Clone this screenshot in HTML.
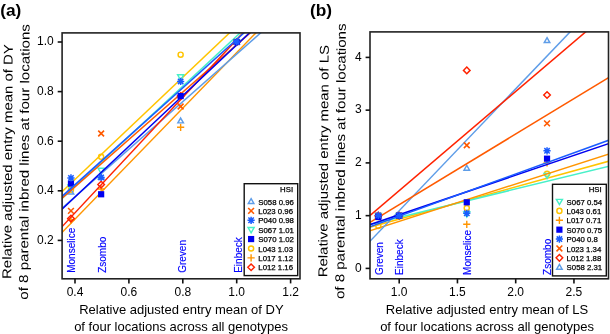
<!DOCTYPE html>
<html><head><meta charset="utf-8"><style>
html,body{margin:0;padding:0;background:#fff;width:610px;height:334px;overflow:hidden}
svg{display:block;will-change:transform}
text{font-family:"Liberation Sans",sans-serif}
text.d{stroke:#000;stroke-width:0.25px}
text.k{}
</style></head><body>
<svg width="610" height="334" viewBox="0 0 610 334">
<rect width="610" height="334" fill="#fff"/>
<text x="0.2" y="16.0" font-size="17.3" font-weight="bold" fill="#000">(a)</text>
<text x="309.9" y="16.0" font-size="17.3" font-weight="bold" fill="#000">(b)</text>
<text transform="translate(12.00,161.60) rotate(-89.65) scale(1.158,1)" font-size="12.9" text-anchor="middle" fill="#000">Relative adjusted entry mean of DY</text>
<text transform="translate(28.80,161.90) rotate(-89.65) scale(1.17,1)" font-size="12.9" text-anchor="middle" fill="#000">of 8 parental inbred lines at four locations</text>
<text transform="translate(328.00,161.20) rotate(-89.65) scale(1.158,1)" font-size="12.9" text-anchor="middle" fill="#000">Relative adjusted entry mean of LS</text>
<text transform="translate(345.00,161.30) rotate(-89.65) scale(1.17,1)" font-size="12.9" text-anchor="middle" fill="#000">of 8 parental inbred lines at four locations</text>
<text x="181.4" y="314.2" font-size="13" text-anchor="middle" fill="#000">Relative adjusted entry mean of DY</text>
<text x="181.1" y="330.7" font-size="13" text-anchor="middle" fill="#000">of four locations across all genotypes</text>
<text x="487.0" y="314.3" font-size="13" text-anchor="middle" fill="#000">Relative adjusted entry mean of LS</text>
<text x="487.1" y="330.7" font-size="13" text-anchor="middle" fill="#000">of four locations across all genotypes</text>
<clipPath id="ca"><rect x="62.1" y="32.9" width="237.9" height="245.9"/></clipPath>
<g clip-path="url(#ca)"><circle cx="70.96" cy="189.81" r="2.55" fill="none" stroke="#ffc400" stroke-width="1.45"/><circle cx="101.14" cy="156.82" r="2.55" fill="none" stroke="#ffc400" stroke-width="1.45"/><circle cx="180.64" cy="54.65" r="2.55" fill="none" stroke="#ffc400" stroke-width="1.45"/><circle cx="236.70" cy="42.00" r="2.55" fill="none" stroke="#ffc400" stroke-width="1.45"/><line x1="-1380.30" y1="1559.35" x2="2662.20" y2="-2273.76" stroke="#ffc400" stroke-width="1.5"/><path d="M70.96 190.18L73.99 184.93L67.93 184.93Z" fill="none" stroke="#48f0c8" stroke-width="1.45"/><path d="M101.14 173.56L104.17 168.31L98.11 168.31Z" fill="none" stroke="#48f0c8" stroke-width="1.45"/><path d="M180.64 80.07L183.68 74.82L177.61 74.82Z" fill="none" stroke="#48f0c8" stroke-width="1.45"/><path d="M236.70 45.10L239.73 39.85L233.67 39.85Z" fill="none" stroke="#48f0c8" stroke-width="1.45"/><line x1="-1380.30" y1="1538.93" x2="2662.20" y2="-2218.15" stroke="#48f0c8" stroke-width="1.5"/><path d="M67.36 220.06L74.56 220.06M70.96 216.46L70.96 223.66" stroke="#ff9500" stroke-width="1.4"/><path d="M97.54 189.06L104.74 189.06M101.14 185.46L101.14 192.66" stroke="#ff9500" stroke-width="1.4"/><path d="M177.04 127.31L184.24 127.31M180.64 123.71L180.64 130.91" stroke="#ff9500" stroke-width="1.4"/><path d="M233.10 42.00L240.30 42.00M236.70 38.40L236.70 45.60" stroke="#ff9500" stroke-width="1.4"/><line x1="-1380.30" y1="1716.99" x2="2662.20" y2="-2443.84" stroke="#ff9500" stroke-width="1.5"/><path d="M70.96 189.24L73.73 194.04L68.19 194.04Z" fill="none" stroke="#5e9de8" stroke-width="1.45" stroke-linejoin="miter"/><path d="M101.14 174.11L103.91 178.91L98.37 178.91Z" fill="none" stroke="#5e9de8" stroke-width="1.45" stroke-linejoin="miter"/><path d="M180.64 118.06L183.42 122.86L177.87 122.86Z" fill="none" stroke="#5e9de8" stroke-width="1.45" stroke-linejoin="miter"/><path d="M236.70 39.20L239.47 44.00L233.93 44.00Z" fill="none" stroke="#5e9de8" stroke-width="1.45" stroke-linejoin="miter"/><line x1="-1380.30" y1="1482.56" x2="2662.20" y2="-2088.77" stroke="#5e9de8" stroke-width="1.5"/><path d="M68.06 207.99L73.86 213.79M68.06 213.79L73.86 207.99" stroke="#ff5a00" stroke-width="1.6"/><path d="M98.24 130.61L104.04 136.41M98.24 136.41L104.04 130.61" stroke="#ff5a00" stroke-width="1.6"/><path d="M177.74 103.58L183.54 109.38M177.74 109.38L183.54 103.58" stroke="#ff5a00" stroke-width="1.6"/><path d="M233.80 39.10L239.60 44.90M233.80 44.90L239.60 39.10" stroke="#ff5a00" stroke-width="1.6"/><line x1="-1380.30" y1="1465.03" x2="2662.20" y2="-2085.67" stroke="#ff5a00" stroke-width="1.5"/><path d="M70.96 215.28L74.26 218.58L70.96 221.88L67.66 218.58Z" fill="none" stroke="#ff2200" stroke-width="1.45"/><path d="M101.14 181.30L104.44 184.60L101.14 187.90L97.84 184.60Z" fill="none" stroke="#ff2200" stroke-width="1.45"/><path d="M180.64 92.76L183.94 96.06L180.64 99.36L177.34 96.06Z" fill="none" stroke="#ff2200" stroke-width="1.45"/><path d="M236.70 38.70L240.00 42.00L236.70 45.30L233.40 42.00Z" fill="none" stroke="#ff2200" stroke-width="1.45"/><line x1="-1380.30" y1="1772.15" x2="2662.20" y2="-2559.26" stroke="#ff2200" stroke-width="1.5"/><rect x="67.86" y="180.51" width="6.2" height="6.2" fill="#0000f0"/><rect x="98.04" y="191.17" width="6.2" height="6.2" fill="#0000f0"/><rect x="177.54" y="92.96" width="6.2" height="6.2" fill="#0000f0"/><rect x="233.60" y="38.90" width="6.2" height="6.2" fill="#0000f0"/><line x1="-1380.30" y1="1566.65" x2="2662.20" y2="-2237.71" stroke="#0000f0" stroke-width="1.5"/><path d="M67.36 177.90L74.56 177.90M70.96 174.30L70.96 181.50M68.26 175.20L73.66 180.60M68.26 180.60L73.66 175.20" stroke="#1a5cff" stroke-width="1.5"/><path d="M97.54 177.41L104.74 177.41M101.14 173.81L101.14 181.01M98.44 174.71L103.84 180.11M98.44 180.11L103.84 174.71" stroke="#1a5cff" stroke-width="1.5"/><path d="M177.04 81.43L184.24 81.43M180.64 77.83L180.64 85.03M177.94 78.73L183.34 84.13M177.94 84.13L183.34 78.73" stroke="#1a5cff" stroke-width="1.5"/><path d="M233.10 42.00L240.30 42.00M236.70 38.40L236.70 45.60M234.00 39.30L239.40 44.70M234.00 44.70L239.40 39.30" stroke="#1a5cff" stroke-width="1.5"/><line x1="-1380.30" y1="1492.15" x2="2662.20" y2="-2139.67" stroke="#1a5cff" stroke-width="1.5"/></g>
<clipPath id="cb"><rect x="370.0" y="31.9" width="238.5" height="246.9"/></clipPath>
<g clip-path="url(#cb)"><circle cx="378.35" cy="225.99" r="2.55" fill="none" stroke="#ffc400" stroke-width="1.45"/><circle cx="399.20" cy="215.65" r="2.55" fill="none" stroke="#ffc400" stroke-width="1.45"/><circle cx="466.77" cy="208.11" r="2.55" fill="none" stroke="#ffc400" stroke-width="1.45"/><circle cx="547.04" cy="173.82" r="2.55" fill="none" stroke="#ffc400" stroke-width="1.45"/><line x1="-299.80" y1="412.14" x2="1447.70" y2="-70.52" stroke="#ffc400" stroke-width="1.5"/><path d="M378.35 218.75L381.38 213.50L375.32 213.50Z" fill="none" stroke="#48f0c8" stroke-width="1.45"/><path d="M399.20 218.75L402.23 213.50L396.17 213.50Z" fill="none" stroke="#48f0c8" stroke-width="1.45"/><path d="M466.77 217.17L469.80 211.92L463.74 211.92Z" fill="none" stroke="#48f0c8" stroke-width="1.45"/><path d="M547.04 178.61L550.07 173.36L544.01 173.36Z" fill="none" stroke="#48f0c8" stroke-width="1.45"/><line x1="-299.80" y1="388.36" x2="1447.70" y2="-38.91" stroke="#48f0c8" stroke-width="1.5"/><path d="M374.75 216.70L381.95 216.70M378.35 213.10L378.35 220.30" stroke="#ff9500" stroke-width="1.4"/><path d="M395.60 215.65L402.80 215.65M399.20 212.05L399.20 219.25" stroke="#ff9500" stroke-width="1.4"/><path d="M463.17 224.30L470.37 224.30M466.77 220.70L466.77 227.90" stroke="#ff9500" stroke-width="1.4"/><path d="M543.44 162.90L550.64 162.90M547.04 159.30L547.04 166.50" stroke="#ff9500" stroke-width="1.4"/><line x1="-299.80" y1="446.14" x2="1447.70" y2="-115.65" stroke="#ff9500" stroke-width="1.5"/><path d="M378.35 212.85L381.12 217.65L375.58 217.65Z" fill="none" stroke="#5e9de8" stroke-width="1.45" stroke-linejoin="miter"/><path d="M399.20 212.85L401.97 217.65L396.43 217.65Z" fill="none" stroke="#5e9de8" stroke-width="1.45" stroke-linejoin="miter"/><path d="M466.77 165.38L469.54 170.17L464.00 170.17Z" fill="none" stroke="#5e9de8" stroke-width="1.45" stroke-linejoin="miter"/><path d="M547.04 37.72L549.81 42.52L544.27 42.52Z" fill="none" stroke="#5e9de8" stroke-width="1.45" stroke-linejoin="miter"/><line x1="-299.80" y1="941.79" x2="1447.70" y2="-886.00" stroke="#5e9de8" stroke-width="1.5"/><path d="M375.45 212.75L381.25 218.55M375.45 218.55L381.25 212.75" stroke="#ff5a00" stroke-width="1.6"/><path d="M396.30 212.75L402.10 218.55M396.30 218.55L402.10 212.75" stroke="#ff5a00" stroke-width="1.6"/><path d="M463.87 142.38L469.67 148.18M463.87 148.18L469.67 142.38" stroke="#ff5a00" stroke-width="1.6"/><path d="M544.14 120.49L549.94 126.29M544.14 126.29L549.94 120.49" stroke="#ff5a00" stroke-width="1.6"/><line x1="-299.80" y1="628.84" x2="1447.70" y2="-431.44" stroke="#ff5a00" stroke-width="1.5"/><path d="M378.35 212.35L381.65 215.65L378.35 218.95L375.05 215.65Z" fill="none" stroke="#ff2200" stroke-width="1.45"/><path d="M399.20 212.35L402.50 215.65L399.20 218.95L395.90 215.65Z" fill="none" stroke="#ff2200" stroke-width="1.45"/><path d="M466.77 67.08L470.07 70.38L466.77 73.68L463.47 70.38Z" fill="none" stroke="#ff2200" stroke-width="1.45"/><path d="M547.04 91.71L550.34 95.01L547.04 98.31L543.74 95.01Z" fill="none" stroke="#ff2200" stroke-width="1.45"/><line x1="-299.80" y1="785.63" x2="1447.70" y2="-701.92" stroke="#ff2200" stroke-width="1.5"/><rect x="375.25" y="213.92" width="6.2" height="6.2" fill="#0000f0"/><rect x="396.10" y="212.55" width="6.2" height="6.2" fill="#0000f0"/><rect x="463.67" y="199.20" width="6.2" height="6.2" fill="#0000f0"/><rect x="543.94" y="155.58" width="6.2" height="6.2" fill="#0000f0"/><line x1="-299.80" y1="452.09" x2="1447.70" y2="-141.35" stroke="#0000f0" stroke-width="1.5"/><path d="M374.75 215.39L381.95 215.39M378.35 211.79L378.35 218.99M375.65 212.69L381.05 218.09M375.65 218.09L381.05 212.69" stroke="#1a5cff" stroke-width="1.5"/><path d="M395.60 215.65L402.80 215.65M399.20 212.05L399.20 219.25M396.50 212.95L401.90 218.35M396.50 218.35L401.90 212.95" stroke="#1a5cff" stroke-width="1.5"/><path d="M463.17 213.28L470.37 213.28M466.77 209.68L466.77 216.88M464.07 210.58L469.47 215.98M464.07 215.98L469.47 210.58" stroke="#1a5cff" stroke-width="1.5"/><path d="M543.44 150.82L550.64 150.82M547.04 147.22L547.04 154.42M544.34 148.12L549.74 153.52M544.34 153.52L549.74 148.12" stroke="#1a5cff" stroke-width="1.5"/><line x1="-299.80" y1="469.34" x2="1447.70" y2="-163.66" stroke="#1a5cff" stroke-width="1.5"/></g>
<text transform="translate(75.00,272.80) rotate(-90)" font-size="10" fill="#0000ff" stroke="#0000ff" stroke-width="0.15">Monselice</text>
<text transform="translate(105.80,272.80) rotate(-90)" font-size="10" fill="#0000ff" stroke="#0000ff" stroke-width="0.15">Zsombo</text>
<text transform="translate(185.60,272.80) rotate(-90)" font-size="10" fill="#0000ff" stroke="#0000ff" stroke-width="0.15">Greven</text>
<text transform="translate(241.60,272.80) rotate(-90)" font-size="10" fill="#0000ff" stroke="#0000ff" stroke-width="0.15">Einbeck</text>
<text transform="translate(383.40,274.90) rotate(-90)" font-size="10" fill="#0000ff" stroke="#0000ff" stroke-width="0.15">Greven</text>
<text transform="translate(403.30,274.90) rotate(-90)" font-size="10" fill="#0000ff" stroke="#0000ff" stroke-width="0.15">Einbeck</text>
<text transform="translate(471.00,274.90) rotate(-90)" font-size="10" fill="#0000ff" stroke="#0000ff" stroke-width="0.15">Monselice</text>
<text transform="translate(551.10,274.90) rotate(-90)" font-size="10" fill="#0000ff" stroke="#0000ff" stroke-width="0.15">Zsombo</text>
<rect x="244.2" y="183.7" width="53.5" height="91.90000000000003" fill="#fff" stroke="#111" stroke-width="1.4"/>
<text x="293.09999999999997" y="192.4" font-size="7.8" text-anchor="end" fill="#000" class="d">HSI</text>
<path d="M251.10 198.70L253.87 203.50L248.33 203.50Z" fill="none" stroke="#5e9de8" stroke-width="1.45" stroke-linejoin="miter"/>
<text x="258.3" y="204.70" font-size="7.8" fill="#000" class="d">S058 0.96</text>
<path d="M248.20 207.99L254.00 213.79M248.20 213.79L254.00 207.99" stroke="#ff5a00" stroke-width="1.6"/>
<text x="258.3" y="214.09" font-size="7.8" fill="#000" class="d">L023 0.96</text>
<path d="M247.50 220.28L254.70 220.28M251.10 216.68L251.10 223.88M248.40 217.58L253.80 222.98M248.40 222.98L253.80 217.58" stroke="#1a5cff" stroke-width="1.5"/>
<text x="258.3" y="223.48" font-size="7.8" fill="#000" class="d">P040 0.98</text>
<path d="M251.10 232.77L254.13 227.52L248.07 227.52Z" fill="none" stroke="#48f0c8" stroke-width="1.45"/>
<text x="258.3" y="232.87" font-size="7.8" fill="#000" class="d">S067 1.01</text>
<rect x="248.00" y="235.96" width="6.2" height="6.2" fill="#0000f0"/>
<text x="258.3" y="242.26" font-size="7.8" fill="#000" class="d">S070 1.02</text>
<circle cx="251.10" cy="248.45" r="2.55" fill="none" stroke="#ffc400" stroke-width="1.45"/>
<text x="258.3" y="251.65" font-size="7.8" fill="#000" class="d">L043 1.03</text>
<path d="M247.50 257.84L254.70 257.84M251.10 254.24L251.10 261.44" stroke="#ff9500" stroke-width="1.4"/>
<text x="258.3" y="261.04" font-size="7.8" fill="#000" class="d">L017 1.12</text>
<path d="M251.10 263.93L254.40 267.23L251.10 270.53L247.80 267.23Z" fill="none" stroke="#ff2200" stroke-width="1.45"/>
<text x="258.3" y="270.43" font-size="7.8" fill="#000" class="d">L012 1.16</text>
<rect x="552.5" y="184.3" width="53.799999999999955" height="91.59999999999997" fill="#fff" stroke="#111" stroke-width="1.4"/>
<text x="601.6999999999999" y="192.4" font-size="7.8" text-anchor="end" fill="#000" class="d">HSI</text>
<path d="M559.40 204.60L562.43 199.35L556.37 199.35Z" fill="none" stroke="#48f0c8" stroke-width="1.45"/>
<text x="566.6" y="204.70" font-size="7.8" fill="#000" class="d">S067 0.54</text>
<circle cx="559.40" cy="210.89" r="2.55" fill="none" stroke="#ffc400" stroke-width="1.45"/>
<text x="566.6" y="214.09" font-size="7.8" fill="#000" class="d">L043 0.61</text>
<path d="M555.80 220.28L563.00 220.28M559.40 216.68L559.40 223.88" stroke="#ff9500" stroke-width="1.4"/>
<text x="566.6" y="223.48" font-size="7.8" fill="#000" class="d">L017 0.71</text>
<rect x="556.30" y="226.57" width="6.2" height="6.2" fill="#0000f0"/>
<text x="566.6" y="232.87" font-size="7.8" fill="#000" class="d">S070 0.75</text>
<path d="M555.80 239.06L563.00 239.06M559.40 235.46L559.40 242.66M556.70 236.36L562.10 241.76M556.70 241.76L562.10 236.36" stroke="#1a5cff" stroke-width="1.5"/>
<text x="566.6" y="242.26" font-size="7.8" fill="#000" class="d">P040 0.8</text>
<path d="M556.50 245.55L562.30 251.35M556.50 251.35L562.30 245.55" stroke="#ff5a00" stroke-width="1.6"/>
<text x="566.6" y="251.65" font-size="7.8" fill="#000" class="d">L023 1.34</text>
<path d="M559.40 254.54L562.70 257.84L559.40 261.14L556.10 257.84Z" fill="none" stroke="#ff2200" stroke-width="1.45"/>
<text x="566.6" y="261.04" font-size="7.8" fill="#000" class="d">L012 1.88</text>
<path d="M559.40 264.43L562.17 269.23L556.63 269.23Z" fill="none" stroke="#5e9de8" stroke-width="1.45" stroke-linejoin="miter"/>
<text x="566.6" y="270.43" font-size="7.8" fill="#000" class="d">S058 2.31</text>
<rect x="62.1" y="32.9" width="237.9" height="245.9" fill="none" stroke="#222" stroke-width="1.6"/>
<line x1="75.00" y1="278.8" x2="75.00" y2="283.40000000000003" stroke="#111" stroke-width="1.6"/>
<text x="75.00" y="295.6" font-size="12" text-anchor="middle" fill="#000">0.4</text>
<line x1="128.90" y1="278.8" x2="128.90" y2="283.40000000000003" stroke="#111" stroke-width="1.6"/>
<text x="128.90" y="295.6" font-size="12" text-anchor="middle" fill="#000">0.6</text>
<line x1="182.80" y1="278.8" x2="182.80" y2="283.40000000000003" stroke="#111" stroke-width="1.6"/>
<text x="182.80" y="295.6" font-size="12" text-anchor="middle" fill="#000">0.8</text>
<line x1="236.70" y1="278.8" x2="236.70" y2="283.40000000000003" stroke="#111" stroke-width="1.6"/>
<text x="236.70" y="295.6" font-size="12" text-anchor="middle" fill="#000">1.0</text>
<line x1="290.60" y1="278.8" x2="290.60" y2="283.40000000000003" stroke="#111" stroke-width="1.6"/>
<text x="290.60" y="295.6" font-size="12" text-anchor="middle" fill="#000">1.2</text>
<line x1="62.1" y1="240.40" x2="57.7" y2="240.40" stroke="#111" stroke-width="1.6"/>
<text x="53.7" y="243.70" font-size="12" text-anchor="end" fill="#000">0.2</text>
<line x1="62.1" y1="190.80" x2="57.7" y2="190.80" stroke="#111" stroke-width="1.6"/>
<text x="53.7" y="194.10" font-size="12" text-anchor="end" fill="#000">0.4</text>
<line x1="62.1" y1="141.20" x2="57.7" y2="141.20" stroke="#111" stroke-width="1.6"/>
<text x="53.7" y="144.50" font-size="12" text-anchor="end" fill="#000">0.6</text>
<line x1="62.1" y1="91.60" x2="57.7" y2="91.60" stroke="#111" stroke-width="1.6"/>
<text x="53.7" y="94.90" font-size="12" text-anchor="end" fill="#000">0.8</text>
<line x1="62.1" y1="42.00" x2="57.7" y2="42.00" stroke="#111" stroke-width="1.6"/>
<text x="53.7" y="45.30" font-size="12" text-anchor="end" fill="#000">1.0</text>
<rect x="370.0" y="31.9" width="238.5" height="246.9" fill="none" stroke="#222" stroke-width="1.6"/>
<line x1="399.20" y1="278.8" x2="399.20" y2="283.40000000000003" stroke="#111" stroke-width="1.6"/>
<text x="399.20" y="295.6" font-size="12" text-anchor="middle" fill="#000">1.0</text>
<line x1="457.45" y1="278.8" x2="457.45" y2="283.40000000000003" stroke="#111" stroke-width="1.6"/>
<text x="457.45" y="295.6" font-size="12" text-anchor="middle" fill="#000">1.5</text>
<line x1="515.70" y1="278.8" x2="515.70" y2="283.40000000000003" stroke="#111" stroke-width="1.6"/>
<text x="515.70" y="295.6" font-size="12" text-anchor="middle" fill="#000">2.0</text>
<line x1="573.95" y1="278.8" x2="573.95" y2="283.40000000000003" stroke="#111" stroke-width="1.6"/>
<text x="573.95" y="295.6" font-size="12" text-anchor="middle" fill="#000">2.5</text>
<line x1="370.0" y1="268.40" x2="365.6" y2="268.40" stroke="#111" stroke-width="1.6"/>
<text x="361.6" y="271.70" font-size="12" text-anchor="end" fill="#000">0</text>
<line x1="370.0" y1="215.65" x2="365.6" y2="215.65" stroke="#111" stroke-width="1.6"/>
<text x="361.6" y="218.95" font-size="12" text-anchor="end" fill="#000">1</text>
<line x1="370.0" y1="162.90" x2="365.6" y2="162.90" stroke="#111" stroke-width="1.6"/>
<text x="361.6" y="166.20" font-size="12" text-anchor="end" fill="#000">2</text>
<line x1="370.0" y1="110.15" x2="365.6" y2="110.15" stroke="#111" stroke-width="1.6"/>
<text x="361.6" y="113.45" font-size="12" text-anchor="end" fill="#000">3</text>
<line x1="370.0" y1="57.40" x2="365.6" y2="57.40" stroke="#111" stroke-width="1.6"/>
<text x="361.6" y="60.70" font-size="12" text-anchor="end" fill="#000">4</text>
</svg>
</body></html>
